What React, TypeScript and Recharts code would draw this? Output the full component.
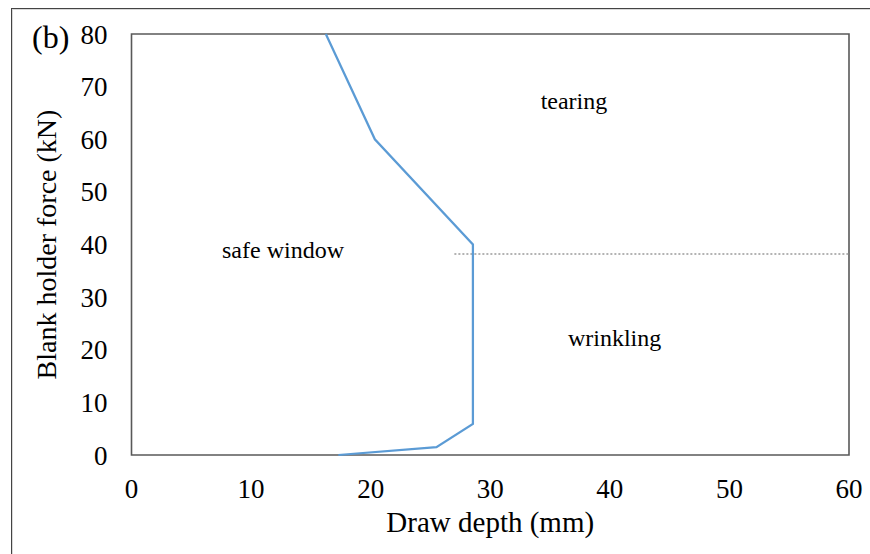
import React from 'react';
import {
  LineChart,
  Line,
  XAxis,
  YAxis,
  ReferenceArea,
  ReferenceLine,
  ReferenceDot,
} from 'recharts';

// Limit curve: draw depth (mm) vs blank holder force (kN)
const drawDepth = [17.3, 25.5, 28.55, 28.55, 20.35, 16.25];
const holderForce = [0, 1.5, 5.9, 40, 60, 80];

const xTicks = [0, 10, 20, 30, 40, 50, 60];
const yTicks = [0, 10, 20, 30, 40, 50, 60, 70, 80];

// Dotted divider between tearing and wrinkling
const dividerStart = 27.0;
const dividerEnd = 60;
const dividerForce = 38.2;

// Region annotations
const regionNames = ['tearing', 'safe window', 'wrinkling'];
const regionDepth = [37.0, 12.67, 40.4];
const regionForce = [67.4, 39.1, 22.3];

const panelLabel = '(b)';
const xTitle = 'Draw depth (mm)';
const yTitle = 'Blank holder force (kN)';

const data = drawDepth.map((x, i) => ({ x, y: holderForce[i] }));
const regions = regionNames.map((name, i) => ({ name, x: regionDepth[i], y: regionForce[i] }));

const FONT = '"Liberation Serif", "Times New Roman", serif';

export default function App() {
  return (
    <div
      style={{
        position: 'absolute',
        left: 0,
        top: 0,
        width: 870,
        height: 554,
        background: '#fff',
        overflow: 'hidden',
      }}
    >
      <div
        style={{
          position: 'absolute',
          left: 11,
          top: 8,
          width: 900,
          height: 600,
          borderTop: '1px solid #444',
          borderLeft: '1px solid #444',
          boxShadow: 'inset 1px 1px 0 #d9d9d9',
        }}
      />
      <div style={{ position: 'absolute', left: 0, top: 0 }}>
        <LineChart
          width={870}
          height={554}
          data={data}
          margin={{ top: 34, right: 21, bottom: 0, left: 0 }}
        >
          <XAxis
            dataKey="x"
            type="number"
            domain={[0, 60]}
            ticks={xTicks}
            axisLine={false}
            tickLine={false}
            tickMargin={18}
            height={99}
            tick={{ fill: '#000', fontSize: 27, fontFamily: FONT }}
            label={{
              value: xTitle,
              position: 'center',
              dy: 17,
              fill: '#000',
              fontSize: 29,
              fontFamily: FONT,
            }}
          />
          <YAxis
            dataKey="y"
            type="number"
            domain={[0, 80]}
            ticks={yTicks}
            axisLine={false}
            tickLine={false}
            tickMargin={18}
            width={131.5}
            tick={{ fill: '#000', fontSize: 27, fontFamily: FONT }}
            label={{
              value: yTitle,
              position: 'center',
              angle: -90,
              dx: -19.5,
              fill: '#000',
              fontSize: 28,
              fontFamily: FONT,
            }}
          />
          <ReferenceArea
            x1={0}
            x2={60}
            y1={0}
            y2={80}
            fill="none"
            fillOpacity={0}
            stroke="#595959"
            strokeWidth={1.6}
          />
          <ReferenceLine
            segment={[
              { x: dividerStart, y: dividerForce },
              { x: dividerEnd, y: dividerForce },
            ]}
            stroke="#9a9a9a"
            strokeWidth={1.5}
            strokeDasharray="2 2"
          />
          {regions.map((r) => (
            <ReferenceDot
              key={r.name}
              x={r.x}
              y={r.y}
              r={1}
              fill="none"
              stroke="none"
              label={{
                value: r.name,
                position: 'center',
                fill: '#000',
                fontSize: 24,
                fontFamily: FONT,
              }}
            />
          ))}
          <Line
            type="linear"
            dataKey="y"
            stroke="#5B9BD5"
            strokeWidth={2.25}
            dot={false}
            activeDot={false}
            isAnimationActive={false}
          />
        </LineChart>
      </div>
      <div
        style={{
          position: 'absolute',
          left: 32,
          top: 19,
          fontFamily: FONT,
          fontSize: 32,
          lineHeight: '36px',
          color: '#000',
        }}
      >
        {panelLabel}
      </div>
    </div>
  );
}
